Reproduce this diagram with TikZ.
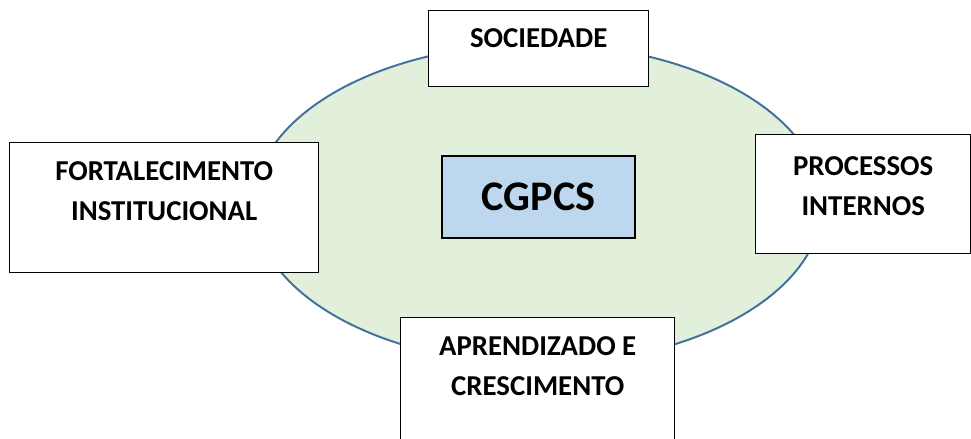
\documentclass[tikz,border=0pt]{standalone}
\usepackage{fontspec}
\setmainfont{Carlito}
\usetikzlibrary{shapes.geometric}
\definecolor{verdeclaro}{RGB}{226,239,218}
\definecolor{azulborda}{RGB}{65,113,156}
\definecolor{azulclaro}{RGB}{189,215,238}

\begin{document}
\begin{tikzpicture}[
    campo/.style={ellipse, draw=azulborda, line width=1.4pt, fill=verdeclaro, minimum width=14.2cm, minimum height=8cm, inner sep=0pt},
    caixa/.style={rectangle, draw=black, line width=1pt, fill=white, align=center, inner sep=0pt, anchor=north west, font=\fontsize{20.5}{28.5}\selectfont\bfseries},
    nucleo/.style={rectangle, draw=black, line width=1pt, fill=azulclaro, minimum width=4.825cm, minimum height=2.05cm, font=\fontsize{30}{36}\selectfont\bfseries}
]
    \useasboundingbox (0,0) rectangle (24.275,-10.975);

    % Background ellipse
    \node[campo] (campo) at (13.45,-5.1) {};

    % Center
    \node[nucleo] (cgpcs) at (13.4625,-4.925) {CGPCS};

    % Perspectives around it
    \node[caixa, minimum width=5.5cm, text height=0.925cm, text depth=0.975cm] (soc) at (10.7,-0.25) {SOCIEDADE};
    \node[caixa, minimum width=7.725cm, text height=1.95cm, text depth=1.3cm] (fort) at (0.225,-3.55) {FORTALECIMENTO\\INSTITUCIONAL};
    \node[caixa, minimum width=5.375cm, text height=2.025cm, text depth=0.95cm] (proc) at (18.875,-3.35) {PROCESSOS\\INTERNOS};
    \node[caixa, minimum width=6.85cm, text height=1.95cm, text depth=1.25cm] (apr) at (10.0,-7.925) {APRENDIZADO E\\CRESCIMENTO};
\end{tikzpicture}
\end{document}
